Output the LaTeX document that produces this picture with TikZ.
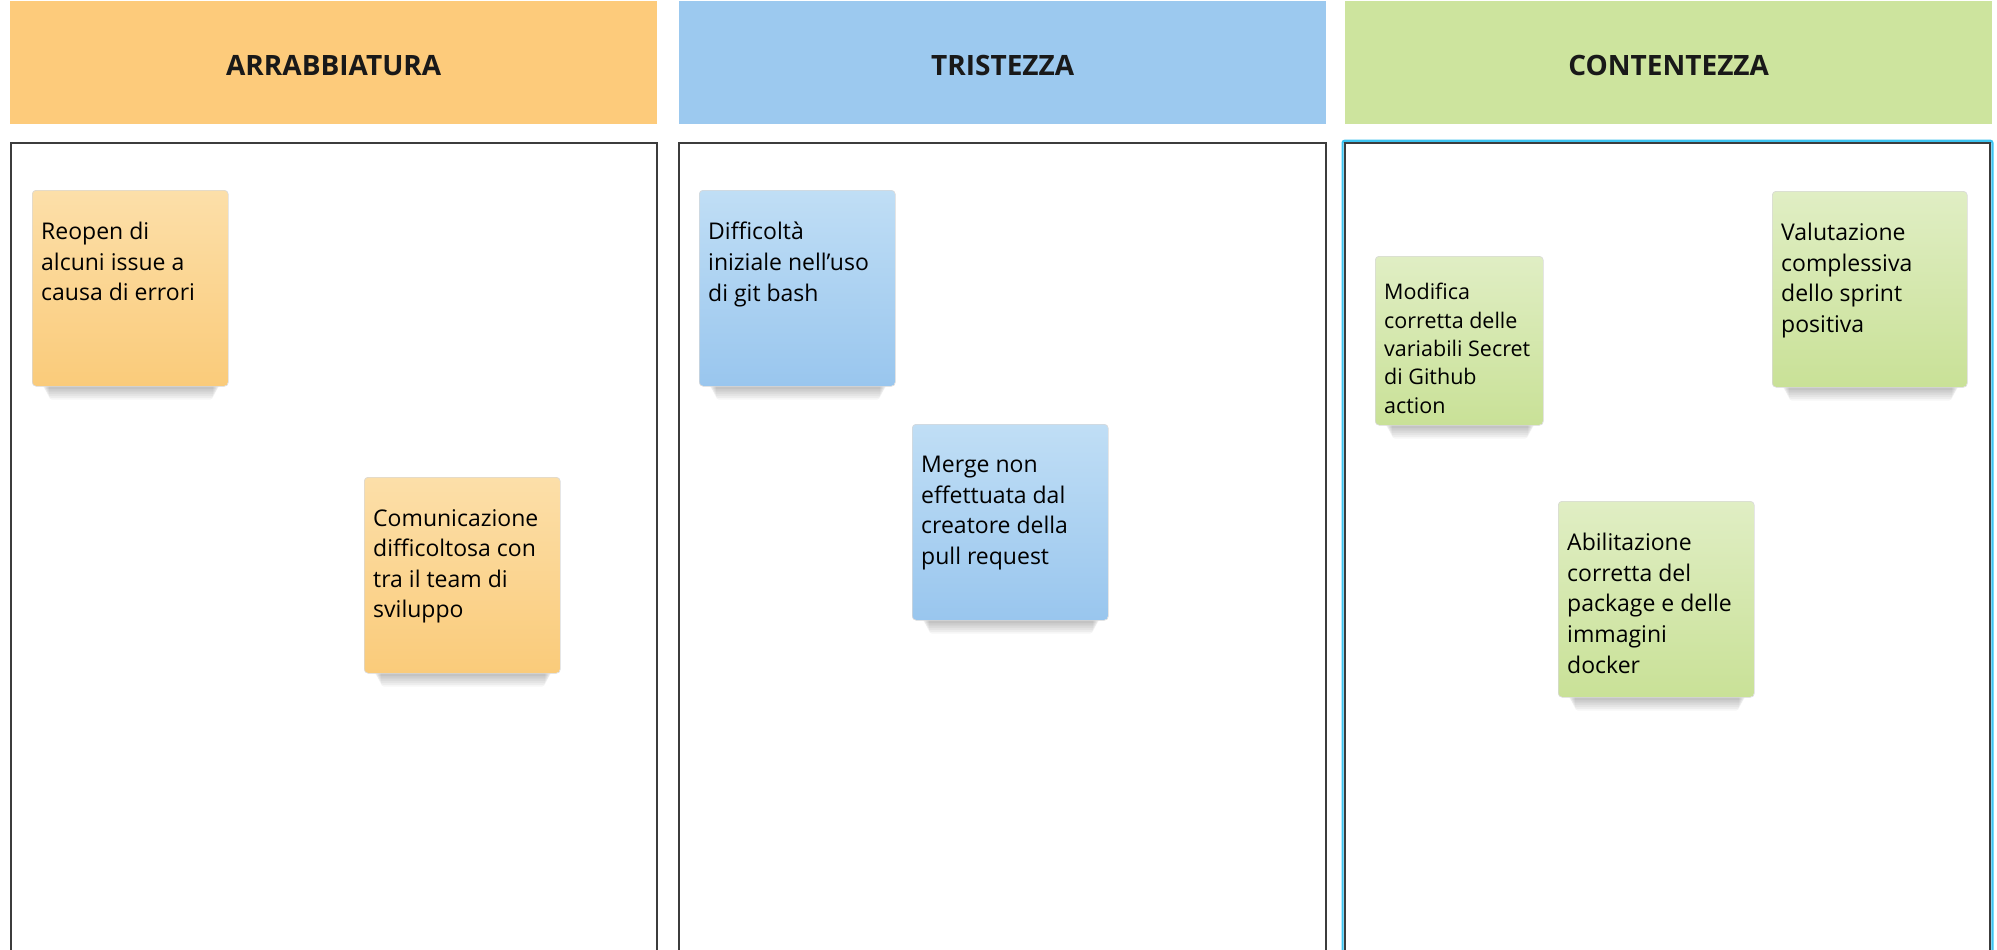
\documentclass[tikz,border=0pt]{standalone}
\usepackage{fontspec}
\setmainfont{Open Sans}
\usetikzlibrary{fadings}
\definecolor{hOr}{HTML}{FDCB7B}
\definecolor{hBl}{HTML}{9CC9EF}
\definecolor{hGr}{HTML}{CDE49E}
\definecolor{nOrA}{HTML}{FCDFA9}
\definecolor{nOrB}{HTML}{FACB7A}
\definecolor{nBlA}{HTML}{C0DEF5}
\definecolor{nBlB}{HTML}{99C6EE}
\definecolor{nGrA}{HTML}{E0EEC4}
\definecolor{nGrB}{HTML}{C9E197}
\definecolor{panelline}{HTML}{3C3C3C}
\definecolor{selcyan}{HTML}{3CC3F0}
\tikzset{
  header/.style={rectangle, inner sep=0pt, minimum width=647pt, minimum height=123pt,
    font=\fontsize{28}{30}\selectfont\bfseries, text=black!90},
  panel/.style={draw=panelline, line width=1.3pt},
  notebox/.style={rectangle, rounded corners=4pt, draw=black!15, line width=0.6pt, inner sep=0pt},
  notetext/.style={anchor=north west, inner sep=0pt, align=left, text=black},
  bigtxt/.style={font=\fontsize{23}{30.6}\selectfont},
  smalltxt/.style={font=\fontsize{21.5}{28.4}\selectfont},
}
% #1 name, #2 x, #3 y, #4 w, #5 h, #6 colA, #7 colB, #8 text style, #9 text
\newcommand\sticky[9]{%
  \foreach \i in {1,...,7}{
    \fill[black, opacity=0.035, rounded corners=3pt]
      ({#2+10+\i}, {#3+#5-6}) rectangle ({#2+#4-8-\i}, {#3+#5+1+1.8*\i});
  }
  \shade[rounded corners=4pt, shading angle=35, top color=#6, bottom color=#7]
    (#2,#3) rectangle ({#2+#4},{#3+#5});
  \node[notebox, minimum width=#4pt, minimum height=#5pt, anchor=north west] (#1) at (#2,#3) {};
  \node[notetext, #8] (#1t) at ({#2+9},{#3+\noteoff}) {#9};
}
\newcommand\noteoff{32}
\newcommand\headtxt[1]{\raisebox{-13pt}[0pt][0pt]{#1}}
\begin{document}
\begin{tikzpicture}[x=1pt,y=-1pt]
\useasboundingbox (0,0) rectangle (1997,950);
\fill[white] (0,0) rectangle (1997,950);

% headers
\node[header, fill=hOr, anchor=north west] (h1) at (10,1) {\headtxt{ARRABBIATURA}};
\node[header, fill=hBl, anchor=north west] (h2) at (679,1) {\headtxt{TRISTEZZA}};
\node[header, fill=hGr, anchor=north west] (h3) at (1345,1) {\headtxt{CONTENTEZZA}};

% panels
\draw[panel] (11,960) -- (11,143) -- (657,143) -- (657,960);
\draw[panel] (679,960) -- (679,143) -- (1326,143) -- (1326,960);
\draw[selcyan, line width=2.2pt, rounded corners=2pt] (1342.6,960) -- (1342.6,140.8) -- (1992.4,140.8) -- (1992.4,960);
\draw[panel] (1345,960) -- (1345,143) -- (1990,143) -- (1990,960);

% sticky notes
\sticky{n1}{32}{190}{196}{196}{nOrA}{nOrB}{bigtxt}{Reopen di\\alcuni issue a\\causa di errori}
\sticky{n2}{364}{477}{196}{196}{nOrA}{nOrB}{bigtxt}{Comunicazione\\difficoltosa con\\tra il team di\\sviluppo}
\sticky{n3}{699}{190}{196}{196}{nBlA}{nBlB}{bigtxt}{Difficoltà\\iniziale nell'uso\\di git bash}
\sticky{n4}{912}{424}{196}{196}{nBlA}{nBlB}{bigtxt}{Merge non\\effettuata dal\\creatore della\\pull request}
\renewcommand\noteoff{27}
\sticky{n5}{1375}{256}{168}{169}{nGrA}{nGrB}{smalltxt}{Modifica\\corretta delle\\variabili Secret\\di Github\\action}
\renewcommand\noteoff{32}
\sticky{n6}{1772}{191}{195}{196}{nGrA}{nGrB}{bigtxt}{Valutazione\\complessiva\\dello sprint\\positiva}
\sticky{n7}{1558}{501}{196}{196}{nGrA}{nGrB}{bigtxt}{Abilitazione\\corretta del\\package e delle\\immagini\\docker}
\end{tikzpicture}
\end{document}
